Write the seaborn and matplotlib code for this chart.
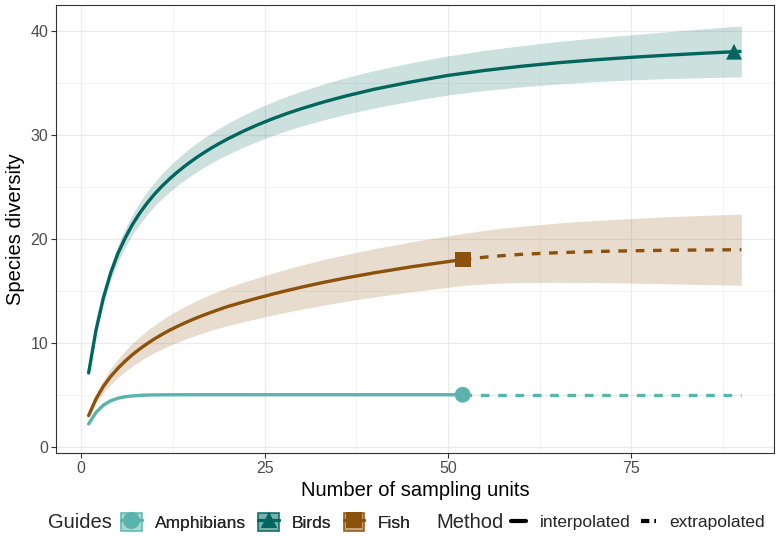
import matplotlib
matplotlib.use("Agg")
import matplotlib.pyplot as plt
from matplotlib.lines import Line2D
from matplotlib.patches import Patch
from matplotlib.legend_handler import HandlerTuple
from matplotlib.colors import to_rgba
import pandas as pd
import seaborn as sns

# rarefaction / extrapolation curves
birds_m = [1, 2, 3, 4, 5, 6, 7, 8, 9, 10, 11, 12, 13, 14, 15, 16, 17, 18, 19, 20,
           22, 24, 26, 28, 30, 33, 36, 40, 45, 50, 55, 60, 65, 70, 75, 80, 85, 89, 90]
birds_qd = [7.1, 11.2, 14.3, 16.7, 18.6, 20.1, 21.4, 22.5, 23.45, 24.3, 25.05, 25.73, 26.35, 26.92,
            27.45, 27.94, 28.4, 28.83, 29.23, 29.61, 30.31, 30.94, 31.51, 32.03, 32.5, 33.14, 33.71,
            34.38, 35.08, 35.7, 36.18, 36.58, 36.92, 37.2, 37.44, 37.65, 37.84, 37.98, 38.01]
birds_ucl = [7.2, 11.55, 14.85, 17.4, 19.4, 21.0, 22.37, 23.54, 24.55, 25.45, 26.25, 26.98, 27.64,
             28.25, 28.81, 29.33, 29.82, 30.28, 30.7, 31.11, 31.85, 32.52, 33.13, 33.68, 34.18, 34.86,
             35.47, 36.18, 36.92, 37.58, 38.11, 38.56, 38.96, 39.3, 39.61, 39.9, 40.19, 40.41, 40.46]
birds_lcl = [7.0, 10.85, 13.75, 16.0, 17.8, 19.2, 20.43, 21.46, 22.35, 23.15, 23.85, 24.48, 25.06,
             25.59, 26.09, 26.55, 26.98, 27.38, 27.76, 28.11, 28.77, 29.36, 29.89, 30.38, 30.82, 31.42,
             31.95, 32.58, 33.24, 33.82, 34.25, 34.6, 34.88, 35.1, 35.27, 35.4, 35.49, 35.55, 35.56]
birds_nobs = 89

fish_m = [1, 2, 3, 4, 5, 6, 7, 8, 9, 10, 11, 12, 13, 14, 15, 16, 17, 18, 19, 20,
          22, 24, 26, 28, 30, 33, 36, 40, 45, 52, 56, 60, 65, 70, 75, 80, 85, 90]
fish_qd = [3.0, 4.6, 5.8, 6.75, 7.55, 8.25, 8.87, 9.42, 9.92, 10.38, 10.8, 11.19, 11.54, 11.87,
           12.18, 12.47, 12.74, 13.0, 13.25, 13.49, 13.9, 14.29, 14.66, 15.01, 15.34, 15.8, 16.22,
           16.73, 17.3, 18.0, 18.3, 18.5, 18.66, 18.77, 18.84, 18.89, 18.92, 18.94]
fish_ucl = [3.1, 5.0, 6.4, 7.5, 8.43, 9.25, 9.97, 10.6, 11.18, 11.71, 12.2, 12.65, 13.06, 13.44,
            13.8, 14.14, 14.45, 14.75, 15.04, 15.32, 15.8, 16.25, 16.68, 17.08, 17.46, 17.99, 18.47,
            19.05, 19.7, 20.5, 20.9, 21.2, 21.51, 21.75, 21.94, 22.11, 22.25, 22.36]
fish_lcl = [2.9, 4.2, 5.2, 6.0, 6.67, 7.25, 7.77, 8.24, 8.66, 9.05, 9.4, 9.73, 10.02, 10.3,
            10.56, 10.8, 11.03, 11.25, 11.46, 11.66, 12.0, 12.33, 12.64, 12.94, 13.22, 13.61, 13.97,
            14.41, 14.9, 15.5, 15.7, 15.8, 15.81, 15.79, 15.74, 15.67, 15.59, 15.52]
fish_nobs = 52

amph_m = [1, 2, 3, 4, 5, 6, 7, 8, 9, 10, 12, 15, 20, 30, 40, 52, 60, 70, 80, 90]
amph_qd = [2.2, 3.3, 4.0, 4.42, 4.67, 4.81, 4.89, 4.94, 4.97, 4.985, 4.995, 5.0, 5.0, 5.0, 5.0,
           5.0, 5.0, 5.0, 5.0, 5.0]
amph_ucl = [2.3, 3.45, 4.15, 4.55, 4.78, 4.9, 4.96, 5.0, 5.02, 5.03, 5.03, 5.03, 5.03, 5.03, 5.03,
            5.03, 5.03, 5.03, 5.03, 5.03]
amph_lcl = [2.1, 3.15, 3.85, 4.29, 4.56, 4.72, 4.82, 4.88, 4.92, 4.94, 4.96, 4.97, 4.97, 4.97, 4.97,
            4.97, 4.97, 4.97, 4.97, 4.97]
amph_nobs = 52

guides = ["Amphibians", "Birds", "Fish"]
colors = {"Amphibians": "#5AB4AC", "Birds": "#01665E", "Fish": "#8C510A"}
markers = {"Amphibians": "o", "Birds": "^", "Fish": "s"}

series = {
    "Amphibians": (amph_m, amph_qd, amph_lcl, amph_ucl, amph_nobs),
    "Birds": (birds_m, birds_qd, birds_lcl, birds_ucl, birds_nobs),
    "Fish": (fish_m, fish_qd, fish_lcl, fish_ucl, fish_nobs),
}

rows = []
obs = []
for g, (m, qd, lcl, ucl, nobs) in series.items():
    for x, y in zip(m, qd):
        if x <= nobs:
            rows.append((g, "interpolated", x, y))
        if x >= nobs:
            rows.append((g, "extrapolated", x, y))
        if x == nobs:
            obs.append((g, x, y))
df = pd.DataFrame(rows, columns=["Guides", "Method", "m", "qD"])
df_obs = pd.DataFrame(obs, columns=["Guides", "m", "qD"])

sns.set_theme(style="whitegrid")
plt.rcParams["font.family"] = ["Liberation Sans", "DejaVu Sans"]

fig = plt.figure(figsize=(7.76, 5.36), dpi=100)
ax = fig.add_axes([56 / 776, 1 - 453 / 536, (774 - 56) / 776, (453 - 5) / 536])
ax.set_facecolor("white")

for g in guides:
    m, qd, lcl, ucl, nobs = series[g]
    ax.fill_between(m, lcl, ucl, color=colors[g], alpha=0.2, lw=0, zorder=2)

sns.lineplot(data=df, x="m", y="qD", hue="Guides", style="Method", palette=colors,
             dashes={"interpolated": "", "extrapolated": (2.6, 2.6)},
             estimator=None, sort=True, lw=2.4, legend=False, ax=ax, zorder=3)
sns.scatterplot(data=df_obs, x="m", y="qD", hue="Guides", style="Guides", palette=colors,
                markers=markers, s=130, linewidth=0, legend=False, ax=ax, zorder=4)

ax.set_xlim(-3.45, 94.45)
ax.set_ylim(-0.6, 42.47)
ax.set_xticks([0, 25, 50, 75])
ax.set_yticks([0, 10, 20, 30, 40])
ax.set_xticks([12.5, 37.5, 62.5, 87.5], minor=True)
ax.set_yticks([5, 15, 25, 35], minor=True)
ax.grid(which="major", color="#EBEBEB", lw=0.9)
ax.grid(which="minor", color="#F3F3F3", lw=0.6)
ax.set_axisbelow(True)
for s in ax.spines.values():
    s.set_color("#333333")
    s.set_linewidth(0.8)
ax.tick_params(which="major", length=3.5, width=0.8, color="#333333", labelcolor="#4D4D4D",
               labelsize=11.5, pad=2, bottom=True, left=True)
ax.tick_params(which="minor", length=0)
ax.set_xlabel("Number of sampling units", fontsize=14.5, color="black", labelpad=4)
ax.set_ylabel("Species diversity", fontsize=14.5, color="black", labelpad=4)

# legend row at the bottom
ly = 1 - 522 / 536
fig.text(48 / 776, ly, "Guides", fontsize=14.5, va="center", ha="left")
g_handles = []
for g in guides:
    c = colors[g]
    box = Patch(facecolor=to_rgba(c, 0.3), edgecolor=to_rgba(c, 0.6), lw=1.2)
    mk = Line2D([], [], color=c, lw=2.2, marker=markers[g], markersize=12, markeredgewidth=0)
    g_handles.append((box, mk))
leg1 = fig.legend(g_handles, guides, loc="center left", bbox_to_anchor=(121 / 776, ly), ncol=3,
                  frameon=False, fontsize=12.5, handler_map={tuple: HandlerTuple(ndivide=1)},
                  handlelength=1.2, handleheight=1.25, handletextpad=0.75, columnspacing=0.7,
                  borderpad=0, borderaxespad=0)
fig.add_artist(leg1)

fig.text(436 / 776, ly, "Method", fontsize=14.5, va="center", ha="left")
m_handles = [Line2D([], [], color="black", lw=3.0),
             Line2D([], [], color="black", lw=3.0, dashes=(2.0, 1.2))]
fig.legend(m_handles, ["interpolated", "extrapolated"], loc="center left",
           bbox_to_anchor=(511 / 776, ly), ncol=2, frameon=False, fontsize=12.5,
           handlelength=0.85, handletextpad=0.8, columnspacing=0.6, borderpad=0, borderaxespad=0)

fig.savefig("out.png", dpi=100)
